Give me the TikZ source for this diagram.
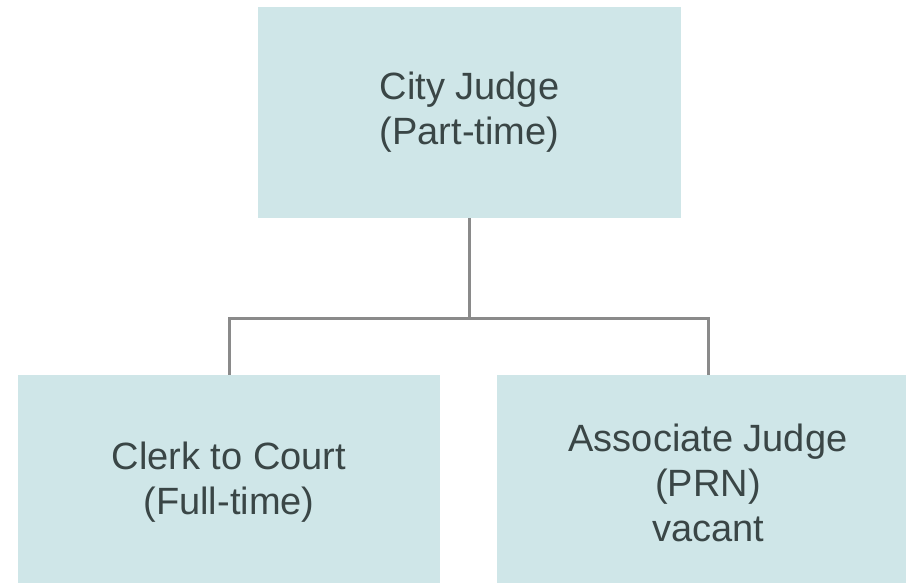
\documentclass[tikz,border=0pt]{standalone}
\usepackage{fontspec}
\setmainfont{Liberation Sans}
\definecolor{boxfill}{RGB}{207,230,232}
\definecolor{linegray}{RGB}{138,138,138}
\definecolor{txt}{RGB}{58,70,70}
\begin{document}
\begin{tikzpicture}[x=1pt,y=-1pt,
  orgbox/.style={rectangle, fill=boxfill, draw=none, inner sep=0pt, align=center,
    text=txt, font=\fontsize{38}{45}\selectfont, minimum width=423pt},
  conn/.style={draw=linegray, line width=3pt}]
\clip (0,0) rectangle (906,583);
\fill[white] (0,0) rectangle (906,583);
\node[orgbox, minimum height=211pt] (top) at (469.5,112.5) {City Judge\\(Part-time)};
\node[orgbox, minimum width=422pt, minimum height=215pt] (left) at (229,482.5) {Clerk to Court\\(Full-time)};
\node[orgbox, minimum height=215pt] (right) at (708,482.5) {Associate Judge\\(PRN)\\vacant};
\coordinate (bus) at (0,318);
\draw[conn] (top.south) -- (top.south |- bus);
\draw[conn] (left.north) |- (right.north |- bus) -- (right.north);
\end{tikzpicture}
\end{document}
